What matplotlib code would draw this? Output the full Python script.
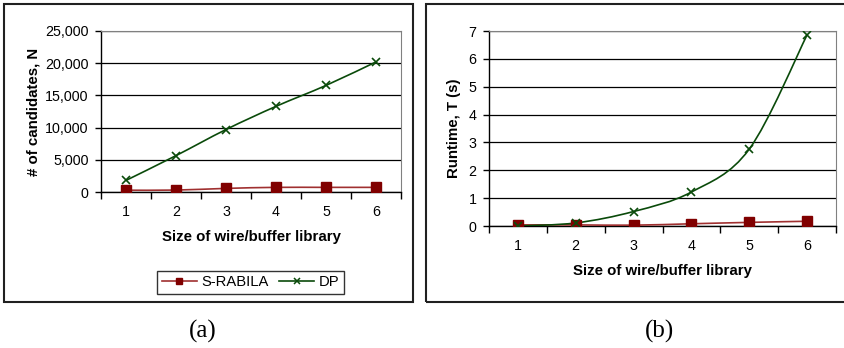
import matplotlib.pyplot as plt
import numpy as np
from matplotlib.path import Path
from matplotlib.patches import PathPatch, Rectangle
from matplotlib.ticker import FuncFormatter

plt.rcParams['font.family'] = ['Liberation Sans', 'DejaVu Sans']

# data
lib_size = [1, 2, 3, 4, 5, 6]
cand_srabila = [280, 300, 560, 720, 720, 720]
cand_dp = [1800, 5650, 9700, 13300, 16550, 20200]
time_srabila = [0.04, 0.04, 0.03, 0.08, 0.13, 0.17]
time_dp = [0.0, 0.11, 0.52, 1.22, 2.76, 6.86]

W, H = 844, 348
RED_M = '#800000'
RED_L = '#a03030'
GREEN = '#0a4a0a'
TICK_FS = 10.3
LAB_FS = 10.8


def smooth_path(x, y):
    # excel-like smoothed line: catmull-rom segments drawn as cubic beziers
    x = np.asarray(x, float)
    y = np.asarray(y, float)
    verts = [(x[0], y[0])]
    codes = [Path.MOVETO]
    n = len(x)
    for i in range(n - 1):
        p0 = (x[max(i - 1, 0)], y[max(i - 1, 0)])
        p1 = (x[i], y[i])
        p2 = (x[i + 1], y[i + 1])
        p3 = (x[min(i + 2, n - 1)], y[min(i + 2, n - 1)])
        c1 = (p1[0] + (p2[0] - p0[0]) / 6, p1[1] + (p2[1] - p0[1]) / 6)
        c2 = (p2[0] - (p3[0] - p1[0]) / 6, p2[1] - (p3[1] - p1[1]) / 6)
        verts += [c1, c2, p2]
        codes += [Path.CURVE4] * 3
    return Path(verts, codes)


def px_axes(fig, x0, y0, x1, y1):
    return fig.add_axes([x0 / W, 1 - y1 / H, (x1 - x0) / W, (y1 - y0) / H])


def style(ax, ymax, ystep, fmt):
    ax.set_xlim(0.5, 6.5)
    ax.set_ylim(0, ymax)
    ax.set_yticks(np.arange(0, ymax + ystep / 2, ystep))
    ax.yaxis.set_major_formatter(fmt)
    ax.set_xticks(lib_size)
    ax.set_xticks(np.arange(0.5, 7, 1), minor=True)
    ax.tick_params(axis='x', which='major', length=0, pad=9, labelsize=TICK_FS)
    ax.tick_params(axis='x', which='minor', length=5, width=1, direction='out')
    ax.tick_params(axis='y', length=4, width=1, direction='out', labelsize=TICK_FS, pad=5)
    ax.grid(axis='y', color='black', linewidth=0.9)
    ax.set_axisbelow(True)
    for s in ('top', 'right'):
        ax.spines[s].set_color('#808080')
    for s in ('left', 'bottom'):
        ax.spines[s].set_color('black')
        ax.spines[s].set_linewidth(1.0)
    ax.set_xlabel('Size of wire/buffer library', fontsize=LAB_FS, fontweight='bold', labelpad=8)


def series(ax, y1, y2):
    ax.add_patch(PathPatch(smooth_path(lib_size, y1), fill=False, edgecolor=RED_L, lw=1.2, zorder=3))
    ax.add_patch(PathPatch(smooth_path(lib_size, y2), fill=False, edgecolor=GREEN, lw=1.2, zorder=3))
    ax.plot(lib_size, y1, ls='none', marker='s', ms=6.5, color=RED_M, zorder=4)
    ax.plot(lib_size, y2, ls='none', marker='x', ms=5.5, mew=1.2, color=GREEN, zorder=4)


fig = plt.figure(figsize=(W / 100, H / 100), dpi=100)

# panel frames
fig.patches.append(Rectangle((4 / W, 1 - 302 / H), 409 / W, 298 / H, transform=fig.transFigure,
                             fill=False, edgecolor='#202020', lw=1.5))
fig.patches.append(Rectangle((426 / W, 1 - 302 / H), 430 / W, 298 / H, transform=fig.transFigure,
                             fill=False, edgecolor='#202020', lw=1.5))

ax1 = px_axes(fig, 101, 31, 401, 192)
style(ax1, 25000, 5000, FuncFormatter(lambda v, p: f'{int(v):,}'))
series(ax1, cand_srabila, cand_dp)
ax1.set_ylabel('# of candidates, N', fontsize=LAB_FS, fontweight='bold', labelpad=3.5)

ax2 = px_axes(fig, 489, 31, 836, 226)
style(ax2, 7, 1, FuncFormatter(lambda v, p: f'{int(v)}'))
series(ax2, time_srabila, time_dp)
ax2.set_ylabel('Runtime, T (s)', fontsize=LAB_FS, fontweight='bold', labelpad=5.5)

h1, = ax1.plot([], [], color=RED_L, lw=1.2, marker='s', ms=5, mfc=RED_M, mec=RED_M)
h2, = ax1.plot([], [], color=GREEN, lw=1.2, marker='x', ms=4.5, mew=1.1)
leg = fig.legend([h1, h2], ['S-RABILA', 'DP'], loc='center',
                 bbox_to_anchor=(250.5 / W, 1 - 282.5 / H), ncol=2, fontsize=10.6,
                 frameon=True, fancybox=False, edgecolor='black', handlelength=2.4,
                 handletextpad=0.3, columnspacing=0.7, borderpad=0.3)
leg.get_frame().set_linewidth(1.0)

fig.text(203 / W, 1 - 331 / H, '(a)', ha='center', va='center', fontsize=18,
         family=['Liberation Serif', 'DejaVu Serif'])
fig.text(659 / W, 1 - 331 / H, '(b)', ha='center', va='center', fontsize=18,
         family=['Liberation Serif', 'DejaVu Serif'])

fig.savefig('out.png', dpi=100)
